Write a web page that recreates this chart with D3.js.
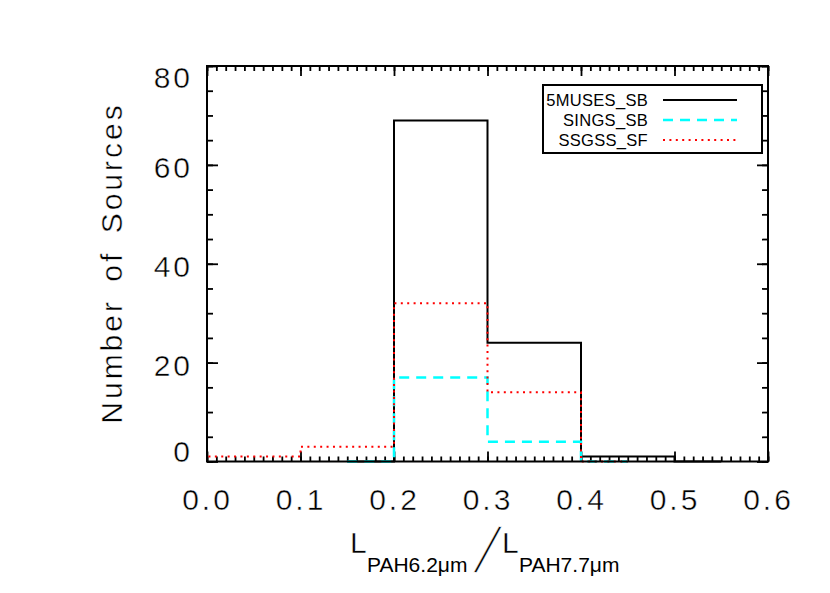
<!DOCTYPE html>
<html>
<head>
<meta charset="utf-8">
<script src="https://cdn.jsdelivr.net/npm/d3@7"></script>
<style>
  body { margin: 0; background: #fff; }
  svg { display: block; }
  text { font-family: "Liberation Sans", Arial, sans-serif; fill: #000; }
  text.big { stroke: #fff; stroke-width: 0.45px; }
</style>
</head>
<body>
<div id="chart"></div>
<script>
// Histogram of L(PAH6.2um)/L(PAH7.7um) for three samples

// bin edges and counts for each sample (step histograms)
const musesEdges = [0.15, 0.2, 0.3, 0.4, 0.5, 0.55];
const musesCounts = [0, 69, 24, 1, 0];
const singsEdges = [0.15, 0.2, 0.3, 0.4, 0.45];
const singsCounts = [0, 17, 4, 0];
const ssgssEdges = [0.0, 0.1, 0.2, 0.3, 0.4, 0.45];
const ssgssCounts = [1, 3, 32, 14, 0];

const seriesNames = ['5MUSES_SB', 'SINGS_SB', 'SSGSS_SF'];
const xTicks = [0.0, 0.1, 0.2, 0.3, 0.4, 0.5, 0.6];
const yTicks = [0, 20, 40, 60, 80];

function createHistogram() {
    const width = 830, height = 593;
    const margin = {top: 66, right: 62, bottom: 131.5, left: 207};

    const svg = d3.select('#chart').append('svg')
        .attr('width', width)
        .attr('height', height);

    const x = d3.scaleLinear().domain([0, 0.6]).range([margin.left, width - margin.right]);
    const y = d3.scaleLinear().domain([0, 80]).range([height - margin.bottom, margin.top]);

    const x0 = x.range()[0], x1 = x.range()[1];
    const y0 = y.range()[0], y1 = y.range()[1];

    // minor ticks
    const xMinor = d3.range(0, 61).map(i => i / 100);
    const yMinor = d3.range(0, 17).map(i => i * 5);

    function styleAxis(g) {
        g.select('.domain').remove();
        g.selectAll('line').attr('stroke', '#000').attr('stroke-width', 1.8);
    }

    // minor ticks on all four sides
    svg.append('g').attr('transform', `translate(0,${y0})`)
        .call(d3.axisBottom(x).tickValues(xMinor).tickSize(-5).tickFormat(''))
        .call(styleAxis);
    svg.append('g').attr('transform', `translate(0,${y1})`)
        .call(d3.axisTop(x).tickValues(xMinor).tickSize(-5).tickFormat(''))
        .call(styleAxis);
    svg.append('g').attr('transform', `translate(${x0},0)`)
        .call(d3.axisLeft(y).tickValues(yMinor).tickSize(-6).tickFormat(''))
        .call(styleAxis);
    svg.append('g').attr('transform', `translate(${x1},0)`)
        .call(d3.axisRight(y).tickValues(yMinor).tickSize(-6).tickFormat(''))
        .call(styleAxis);

    // major ticks
    const xAxis = svg.append('g').attr('transform', `translate(0,${y0})`)
        .call(d3.axisBottom(x).tickValues(xTicks).tickSize(-10).tickPadding(27).tickFormat(d3.format('.1f')))
        .call(styleAxis);
    svg.append('g').attr('transform', `translate(0,${y1})`)
        .call(d3.axisTop(x).tickValues(xTicks).tickSize(-10).tickFormat(''))
        .call(styleAxis);
    const yAxis = svg.append('g').attr('transform', `translate(${x0},0)`)
        .call(d3.axisLeft(y).tickValues(yTicks).tickSize(-11).tickPadding(14).tickFormat(d3.format('d')))
        .call(styleAxis);
    svg.append('g').attr('transform', `translate(${x1},0)`)
        .call(d3.axisRight(y).tickValues(yTicks).tickSize(-11).tickFormat(''))
        .call(styleAxis);

    xAxis.selectAll('text')
        .attr('class', 'big')
        .style('font-size', '30px')
        .style('letter-spacing', '3px')
        .attr('fill', '#000');

    // end labels are pulled inside the axis range
    yAxis.selectAll('text')
        .attr('class', 'big')
        .style('font-size', '30px')
        .style('letter-spacing', '3px')
        .attr('fill', '#000')
        .attr('x', -14)
        .attr('dy', '0.35em')
        .attr('y', d => {
            const c = Math.min(Math.max(y(d) + 2.5, y1 + 11), y0 - 11);
            return c - y(d);
        });

    // step paths
    function stepPath(edges, counts) {
        const pts = [[edges[0], 0]];
        counts.forEach((c, i) => {
            pts.push([edges[i], c]);
            pts.push([edges[i + 1], c]);
        });
        return d3.line().x(d => x(d[0])).y(d => y(d[1]))(pts);
    }

    svg.append('path')
        .attr('d', stepPath(musesEdges, musesCounts))
        .attr('fill', 'none')
        .attr('stroke', '#000')
        .attr('stroke-width', 2);

    svg.append('path')
        .attr('d', stepPath(singsEdges, singsCounts))
        .attr('fill', 'none')
        .attr('stroke', '#00ffff')
        .attr('stroke-width', 2.5)
        .attr('stroke-dasharray', '10,7');

    svg.append('path')
        .attr('d', stepPath(ssgssEdges, ssgssCounts))
        .attr('fill', 'none')
        .attr('stroke', '#ff0000')
        .attr('stroke-width', 2)
        .attr('stroke-dasharray', '2,4.4');

    // frame
    svg.append('rect')
        .attr('x', x0).attr('y', y1)
        .attr('width', x1 - x0).attr('height', y0 - y1)
        .attr('fill', 'none')
        .attr('stroke', '#000')
        .attr('stroke-width', 2);

    // legend
    const legend = svg.append('g').attr('transform', 'translate(543,85)');
    legend.append('rect')
        .attr('width', 219).attr('height', 68)
        .attr('fill', '#fff')
        .attr('stroke', '#000')
        .attr('stroke-width', 2);

    const legendStyles = [
        {color: '#000', dash: null, width: 2},
        {color: '#00ffff', dash: '10,7', width: 2.5},
        {color: '#ff0000', dash: '2,4.4', width: 2}
    ];

    seriesNames.forEach((name, i) => {
        const row = legend.append('g').attr('transform', `translate(0,${15 + i * 20})`);
        row.append('text')
            .attr('x', 105)
            .attr('y', 6)
            .attr('text-anchor', 'end')
            .style('font-size', '16.5px')
            .style('letter-spacing', '0.3px')
            .text(name);
        row.append('line')
            .attr('x1', 120).attr('x2', 194)
            .attr('stroke', legendStyles[i].color)
            .attr('stroke-width', legendStyles[i].width)
            .attr('stroke-dasharray', legendStyles[i].dash);
    });

    // y axis title
    svg.append('text')
        .attr('class', 'big')
        .attr('transform', 'translate(122,263) rotate(-90)')
        .attr('text-anchor', 'middle')
        .style('font-size', '30px')
        .style('letter-spacing', '3px')
        .style('word-spacing', '6px')
        .text('Number of Sources');

    // x axis title
    const xt = svg.append('g');
    xt.append('text').attr('class', 'big').attr('x', 350).attr('y', 553).style('font-size', '30px').text('L');
    xt.append('text').attr('x', 367).attr('y', 572).style('font-size', '21px').text('PAH6.2μm');
    xt.append('text')
        .attr('class', 'big')
        .attr('transform', 'translate(474,572) skewX(-22) scale(1.1,2.1)')
        .style('font-size', '30px')
        .text('/');
    xt.append('text').attr('class', 'big').attr('x', 502).attr('y', 553).style('font-size', '30px').text('L');
    xt.append('text').attr('x', 519).attr('y', 572).style('font-size', '21px').text('PAH7.7μm');
}

createHistogram();
</script>
</body>
</html>
